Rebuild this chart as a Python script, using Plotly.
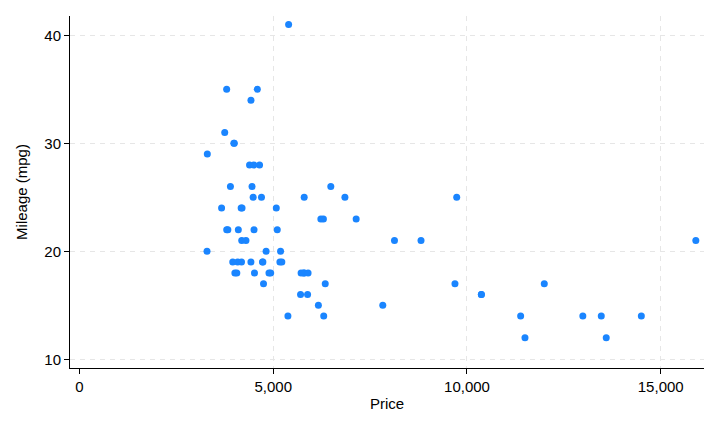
import plotly.graph_objects as go

price = [4099, 4749, 3799, 4816, 7827, 5788, 4453, 5189, 10372, 4082,
         11385, 14500, 15906, 3299, 5705, 4504, 5104, 3667, 3955, 3984,
         4010, 5886, 6342, 4389, 4187, 11497, 13594, 13466, 3829, 5379,
         6165, 4516, 6303, 3291, 8814, 5172, 4733, 4890, 4181, 4195,
         10371, 4647, 4425, 4482, 6486, 4060, 5798, 4934, 5222, 4723,
         4424, 4172, 9690, 6295, 9735, 6229, 4589, 5079, 8129, 4296,
         5799, 4499, 3995, 12990, 3895, 3798, 5899, 3748, 5719, 7140,
         5397, 4697, 6850, 11995]
mpg = [22, 17, 22, 20, 15, 18, 26, 20, 16, 19,
       14, 14, 21, 29, 16, 22, 22, 24, 19, 30,
       18, 16, 17, 28, 21, 12, 12, 14, 22, 14,
       15, 18, 14, 20, 21, 19, 19, 18, 19, 24,
       16, 28, 34, 25, 26, 18, 18, 18, 19, 19,
       19, 24, 17, 23, 25, 23, 35, 24, 21, 21,
       25, 28, 30, 14, 26, 35, 18, 31, 18, 23,
       41, 25, 25, 17]

x_ticks = [0, 5000, 10000, 15000]
x_labels = ["0", "5,000", "10,000", "15,000"]
x_grid = [5000, 10000, 15000]
y_ticks = [10, 20, 30, 40]

FONT = "Liberation Sans, Arial"

fig = go.Figure(go.Scatter(
    x=price, y=mpg, mode="markers",
    marker=dict(color="#1a85ff", size=7, line=dict(width=0)),
))

axis_common = dict(
    showline=True, linecolor="#000000", linewidth=1,
    ticks="outside", ticklen=5, tickcolor="#000000", tickwidth=1,
    zeroline=False, mirror=False, automargin=False,
    tickfont=dict(family=FONT, size=15, color="#000000"),
)

fig.update_layout(
    width=720, height=432,
    margin=dict(l=70, r=16, t=16, b=64),
    paper_bgcolor="white", plot_bgcolor="white",
    showlegend=False,
    xaxis=dict(
        range=[-245, 16117],
        tickvals=x_ticks, ticktext=x_labels,
        showgrid=False,
        minor=dict(tickvals=x_grid, showgrid=True, gridcolor="#e6e6e6",
                   griddash="5px,5px", gridwidth=1, ticks=""),
        title=dict(text="Price", standoff=4,
                   font=dict(family=FONT, size=15, color="#000000")),
        **axis_common,
    ),
    yaxis=dict(
        range=[9.195, 41.79],
        tickvals=y_ticks,
        showgrid=True, gridcolor="#e6e6e6", griddash="5px,5px", gridwidth=1,
        title=dict(text="Mileage (mpg)", standoff=13,
                   font=dict(family=FONT, size=15, color="#000000")),
        **axis_common,
    ),
)

fig.write_html(
    "out.html",
    config={"displayModeBar": False},
    post_script="document.body.style.margin='0';document.body.style.padding='0';",
)
